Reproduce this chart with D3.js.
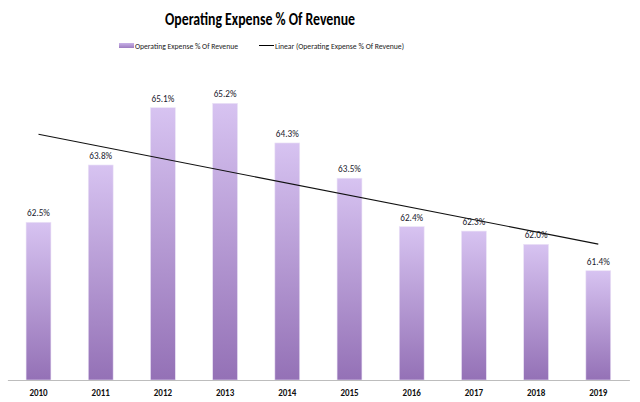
<!DOCTYPE html>
<html>
<head>
<meta charset="utf-8">
<script src="https://cdn.jsdelivr.net/npm/d3@7"></script>
<style>
  body { margin: 0; background: #fff; }
  text { font-family: Carlito, Lato, "Liberation Sans", sans-serif; }
</style>
</head>
<body>
<svg id="chart" width="640" height="402"></svg>
<script>
const years = ["2010", "2011", "2012", "2013", "2014", "2015", "2016", "2017", "2018", "2019"];
const opexPct = [62.5, 63.8, 65.1, 65.2, 64.3, 63.5, 62.4, 62.3, 62.0, 61.4];
const seriesName = "Operating Expense % Of Revenue";
const trendName = "Linear (Operating Expense % Of Revenue)";

const svg = d3.select("#chart");
const baseY = 380;

// Scales
const x = d3.scaleBand().domain(years).range([7.4, 629.4]).paddingInner(0.6).paddingOuter(0.3);
const y = d3.scaleLinear().domain([58.92, 65.2]).range([baseY, 103.3]);

// gradient for bars (per bar)
const defs = svg.append("defs");
const grad = defs.append("linearGradient")
  .attr("id", "barGrad")
  .attr("x1", 0).attr("x2", 0)
  .attr("y1", 0).attr("y2", 1);
grad.append("stop").attr("offset", "0%").attr("stop-color", "#d7c3f1");
grad.append("stop").attr("offset", "100%").attr("stop-color", "#9471b6");

// Title
svg.append("text")
  .attr("x", 165)
  .attr("y", 24.5)
  .attr("font-size", 17)
  .attr("font-weight", "bold")
  .attr("fill", "#000")
  .attr("textLength", 190)
  .attr("lengthAdjust", "spacingAndGlyphs")
  .text(seriesName);

// Legend
const legend = svg.append("g").attr("font-size", 9).attr("fill", "#222");
const legGrad = defs.append("linearGradient").attr("id", "legGrad")
  .attr("x1", 0).attr("x2", 0).attr("y1", 0).attr("y2", 1);
legGrad.append("stop").attr("offset", "0%").attr("stop-color", "#c8b2e8");
legGrad.append("stop").attr("offset", "100%").attr("stop-color", "#9d7cc0");
legend.append("rect")
  .attr("x", 119).attr("y", 43)
  .attr("width", 15).attr("height", 5)
  .attr("fill", "url(#legGrad)");
legend.append("text").attr("x", 135).attr("y", 49)
  .attr("textLength", 103).attr("lengthAdjust", "spacingAndGlyphs")
  .text(seriesName);
legend.append("line")
  .attr("x1", 259).attr("x2", 274)
  .attr("y1", 45.5).attr("y2", 45.5)
  .attr("stroke", "#000").attr("stroke-width", 1);
legend.append("text").attr("x", 275).attr("y", 49)
  .attr("textLength", 129).attr("lengthAdjust", "spacingAndGlyphs")
  .text(trendName);

// Bars
const data = years.map((yr, i) => ({ year: yr, value: opexPct[i] }));

svg.selectAll(".bar")
  .data(data)
  .enter()
  .append("rect")
  .attr("class", "bar")
  .attr("x", (d) => x(d.year))
  .attr("y", (d) => y(d.value))
  .attr("width", x.bandwidth())
  .attr("height", (d) => baseY - y(d.value))
  .attr("fill", "url(#barGrad)")
  .attr("stroke", "#ece4f7")
  .attr("stroke-width", 0.6);

// Value labels
svg.selectAll(".val")
  .data(data)
  .enter()
  .append("text")
  .attr("class", "val")
  .attr("x", (d) => x(d.year) + x.bandwidth() / 2)
  .attr("y", (d) => y(d.value) - 6)
  .attr("text-anchor", "middle")
  .attr("font-size", 9.2)
  .attr("fill", "#1a1a2e")
  .text((d) => d.value.toFixed(1) + "%");

// Axis line and year labels
const xAxis = svg.append("g")
  .attr("transform", "translate(0," + baseY + ")")
  .call(d3.axisBottom(x).tickSize(0).tickPadding(10));
xAxis.select(".domain").attr("stroke", "#bdbdbd").attr("stroke-width", 1.2);
xAxis.selectAll("text")
  .attr("font-family", "Carlito, Lato, 'Liberation Sans', sans-serif")
  .attr("font-size", 9)
  .attr("font-weight", "bold")
  .attr("fill", "#111");

// Linear trend line (least squares over the data)
const idx = data.map((d, i) => i + 1);
const mx = d3.mean(idx);
const my = d3.mean(opexPct);
const slope = d3.sum(idx, (v, i) => (v - mx) * (opexPct[i] - my)) / d3.sum(idx, (v) => (v - mx) * (v - mx));
const intercept = my - slope * mx;
const trend = [data[0], data[data.length - 1]].map((d) => {
  const i = years.indexOf(d.year) + 1;
  return { year: d.year, value: intercept + slope * i };
});
svg.append("path")
  .datum(trend)
  .attr("fill", "none")
  .attr("stroke", "#111")
  .attr("stroke-width", 1.1)
  .attr("d", d3.line()
    .x((d) => x(d.year) + x.bandwidth() / 2)
    .y((d) => y(d.value)));
</script>
</body>
</html>
